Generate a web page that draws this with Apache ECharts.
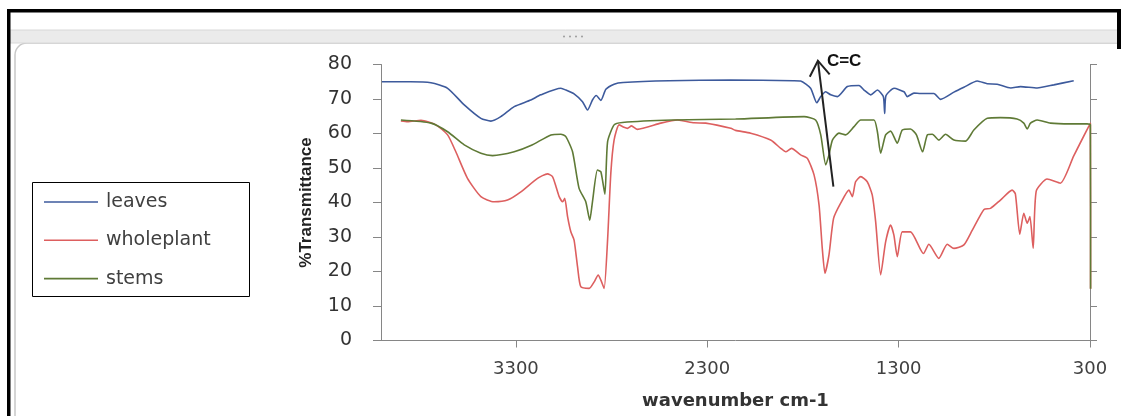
<!DOCTYPE html>
<html>
<head>
<meta charset="utf-8">
<script src="https://cdn.jsdelivr.net/npm/echarts@6/dist/echarts.min.js"></script>
<style>
html,body{margin:0;padding:0;background:#fff;}
#chart{width:1121px;height:416px;}
</style>
</head>
<body>
<div id="chart"></div>
<script>
// ---- data (wavenumber cm-1, %Transmittance) ----
const seriesNames = ['leaves', 'wholeplant', 'stems'];
const xTickValues = [3300, 2300, 1300, 300];
const yTickStep = 10;

const leaves = [
  [4000,75.0],[3850,75.0],[3744,74.7],[3657,73.1],[3570,68.3],[3483,64.4],[3431,63.6],
  [3379,64.9],[3309,67.8],[3222,69.7],[3170,71.2],[3065,73.1],[3039,72.6],[2996,71.5],
  [2952,69.2],[2926,66.8],[2900,69.7],[2880,71.0],[2856,69.6],[2830,72.8],[2787,74.3],
  [2740,74.8],[2500,75.3],[2177,75.5],[1850,75.3],[1812,75.2],[1760,73.1],[1728,68.9],
  [1707,70.7],[1681,72.1],[1655,71.2],[1620,70.7],[1568,73.6],[1507,73.9],[1481,72.6],
  [1446,71.2],[1411,72.6],[1380,70.7],[1373,65.8],[1366,71.0],[1324,73.1],[1272,72.1],
  [1255,70.7],[1220,71.7],[1185,71.6],[1116,71.6],[1081,69.9],[1011,72.0],[959,73.4],
  [889,75.2],[837,74.4],[785,74.3],[714,73.2],[663,73.6],[576,73.2],[489,74.1],[385,75.3]
];

const wholeplant = [
  [3901,63.6],[3866,63.4],[3796,63.8],[3718,62.5],[3657,59.6],[3614,54.7],[3553,47.0],
  [3483,41.7],[3414,40.2],[3344,40.7],[3274,43.1],[3187,47.0],[3135,48.3],[3109,47.5],
  [3090,44.5],[3074,41.7],[3056,40.2],[3045,41.2],[3030,35.9],[3013,31.5],[2996,29.1],
  [2978,21.4],[2961,15.6],[2917,15.1],[2891,17.0],[2870,19.0],[2856,17.5],[2839,15.1],
  [2821,29.1],[2804,48.5],[2787,58.1],[2761,62.5],[2735,61.8],[2717,61.5],[2696,62.2],
  [2665,61.2],[2543,63.0],[2456,63.9],[2369,63.1],[2308,63.0],[2177,61.5],[2152,60.9],
  [2073,60.1],[1969,58.1],[1916,55.7],[1890,54.7],[1860,55.7],[1812,53.8],[1777,52.8],
  [1742,48.0],[1716,39.3],[1699,26.7],[1685,19.5],[1664,24.8],[1640,35.4],[1603,39.8],
  [1560,43.6],[1542,41.7],[1525,46.0],[1498,47.5],[1464,46.0],[1438,42.2],[1420,34.4],
  [1394,19.0],[1368,28.6],[1342,33.5],[1325,30.6],[1307,24.3],[1281,31.5],[1238,31.5],
  [1170,25.2],[1142,27.9],[1090,23.8],[1046,27.9],[1011,26.7],[959,27.7],[915,32.0],
  [854,38.0],[820,38.3],[768,40.7],[707,43.6],[690,42.5],[667,30.8],[646,36.9],
  [628,34.0],[614,35.9],[597,26.7],[581,43.3],[524,46.8],[455,45.6],[385,53.5],
  [298,63.0],[297,15.0]
];

const stems = [
  [3901,63.9],[3744,63.0],[3657,60.5],[3570,56.7],[3483,54.3],[3422,53.6],[3309,54.7],
  [3222,56.5],[3117,59.6],[3065,59.8],[3039,59.1],[3004,54.7],[2970,44.1],[2935,40.2],
  [2914,34.9],[2900,40.2],[2874,49.4],[2856,48.9],[2835,42.4],[2821,57.6],[2787,62.5],
  [2743,63.2],[2482,63.9],[2152,64.2],[1794,64.9],[1734,63.9],[1707,59.6],[1681,50.9],
  [1664,53.8],[1646,58.1],[1612,60.1],[1577,59.6],[1533,62.0],[1498,63.9],[1429,63.9],
  [1411,60.5],[1394,54.3],[1368,59.6],[1342,60.7],[1307,57.2],[1281,61.0],[1238,61.3],
  [1207,59.6],[1175,54.7],[1150,59.6],[1124,59.8],[1090,58.1],[1055,59.8],[1011,58.1],
  [950,57.8],[907,61.0],[837,64.4],[768,64.6],[681,64.2],[646,63.0],[628,61.3],
  [611,63.0],[576,63.9],[506,63.0],[402,62.8],[315,62.8],[298,62.5],[297,15.0]
];

// annotation anchor points (data coords): arrow tail, arrow tip
const arrowTail = [1641, 44.6];
const arrowTip = [1722, 81.1];
const annotationText = 'C=C';

const colors = ['#3d5a9c', '#dd5f5f', '#5f7a36'];
const axisGray = '#868686';

const chart = echarts.init(document.getElementById('chart'), null, {renderer: 'canvas'});

const seriesData = [leaves, wholeplant, stems];

chart.setOption({
  animation: false,
  backgroundColor: '#ffffff',
  grid: {left: 381, right: 31, top: 64.5, bottom: 75.5, containLabel: false},
  legend: {
    orient: 'vertical', left: 44, top: 192, padding: 0,
    icon: 'rect', itemWidth: 54, itemHeight: 1.6, itemGap: 18.3,
    data: seriesNames,
    textStyle: {fontFamily: 'DejaVu Sans', fontSize: 19, color: '#404040', lineHeight: 20, padding: [0, 0, 0, 3]}
  },
  xAxis: {
    type: 'value', min: 300, max: 4005, inverse: true,
    axisLine: {show: true, onZero: false, lineStyle: {color: axisGray, width: 1}},
    axisTick: {show: true, customValues: xTickValues, length: 7, lineStyle: {color: axisGray}},
    axisLabel: {customValues: xTickValues, margin: 20, fontFamily: 'DejaVu Sans', fontSize: 18, color: '#404040',
      formatter: v => String(v)},
    splitLine: {show: false},
    name: 'wavenumber cm-1', nameLocation: 'middle', nameGap: 52,
    nameTextStyle: {fontFamily: 'DejaVu Sans', fontWeight: 'bold', fontSize: 18, color: '#333'}
  },
  yAxis: [{
    type: 'value', min: 0, max: 80, interval: yTickStep, position: 'left',
    axisLine: {show: true, lineStyle: {color: axisGray, width: 1}},
    axisTick: {show: true, length: 8, lineStyle: {color: axisGray}},
    axisLabel: {margin: 29, fontFamily: 'DejaVu Sans', fontSize: 19, color: '#333'},
    splitLine: {show: false},
    name: '%Transmittance', nameLocation: 'middle', nameGap: 66, nameRotate: 90,
    nameTextStyle: {fontFamily: 'Liberation Sans', fontWeight: 'bold', fontSize: 17, color: '#222'}
  }, {
    type: 'value', min: 0, max: 80, interval: yTickStep, position: 'right',
    axisLine: {show: true, lineStyle: {color: axisGray, width: 1}},
    axisTick: {show: true, length: 7, lineStyle: {color: axisGray}},
    axisLabel: {show: false},
    splitLine: {show: false}
  }],
  series: seriesNames.map((n, i) => ({
    name: n, type: 'line', data: seriesData[i], yAxisIndex: 0,
    symbol: 'none', showSymbol: false, smooth: 0.2,
    lineStyle: {color: colors[i], width: 1.6},
    itemStyle: {color: colors[i]},
    z: 3 + (i === 0 ? 2 : (i === 2 ? 1 : 0))
  }))
});

const tip = chart.convertToPixel({gridIndex: 0}, arrowTip);
const tail = chart.convertToPixel({gridIndex: 0}, arrowTail);
const dx = tip[0] - tail[0], dy = tip[1] - tail[1];
const len = Math.sqrt(dx * dx + dy * dy);
const ux = dx / len, uy = dy / len;
const px = -uy, py = ux;
const hb = [tip[0] - ux * 15, tip[1] - uy * 15];
const wing1 = [hb[0] + px * 10, hb[1] + py * 10];
const wing2 = [hb[0] - px * 10, hb[1] - py * 10];

chart.setOption({
  graphic: [
    // window chrome
    {type: 'rect', z: -20, shape: {x: 15, y: 43, width: 1200, height: 500, r: 12},
     style: {fill: '#ffffff', stroke: '#c8c8c8', lineWidth: 1.5}, silent: true},
    {type: 'rect', z: -19, shape: {x: 10, y: 30, width: 1111, height: 13},
     style: {fill: '#ebebeb', stroke: '#d8d8d8', lineWidth: 1}, silent: true},
    {type: 'circle', z: -18, shape: {cx: 564, cy: 36.5, r: 1}, style: {fill: '#9a9a9a'}},
    {type: 'circle', z: -18, shape: {cx: 570, cy: 36.5, r: 1}, style: {fill: '#9a9a9a'}},
    {type: 'circle', z: -18, shape: {cx: 576, cy: 36.5, r: 1}, style: {fill: '#9a9a9a'}},
    {type: 'circle', z: -18, shape: {cx: 582, cy: 36.5, r: 1}, style: {fill: '#9a9a9a'}},
    {type: 'rect', z: 50, shape: {x: 7, y: 9, width: 1114, height: 3.5}, style: {fill: '#000'}},
    {type: 'rect', z: 50, shape: {x: 7, y: 9, width: 3.5, height: 407}, style: {fill: '#000'}},
    {type: 'rect', z: 50, shape: {x: 1117, y: 9, width: 4, height: 40}, style: {fill: '#000'}},
    // legend frame
    {type: 'rect', z: 10, shape: {x: 32.5, y: 182.5, width: 217, height: 114},
     style: {fill: 'none', stroke: '#000', lineWidth: 1}},
    // annotation arrow
    {type: 'line', z: 20, shape: {x1: tail[0], y1: tail[1], x2: tip[0], y2: tip[1]},
     style: {stroke: '#222', lineWidth: 2}},
    {type: 'polyline', z: 20, shape: {points: [wing1, tip, wing2]},
     style: {stroke: '#222', lineWidth: 2, fill: 'none'}},
    {type: 'text', z: 20, x: tip[0] + 9, y: tip[1] + 1,
     style: {text: annotationText, font: 'bold 17px "Liberation Sans"', fill: '#111', verticalAlign: 'middle', align: 'left'}}
  ]
});
</script>
</body>
</html>
